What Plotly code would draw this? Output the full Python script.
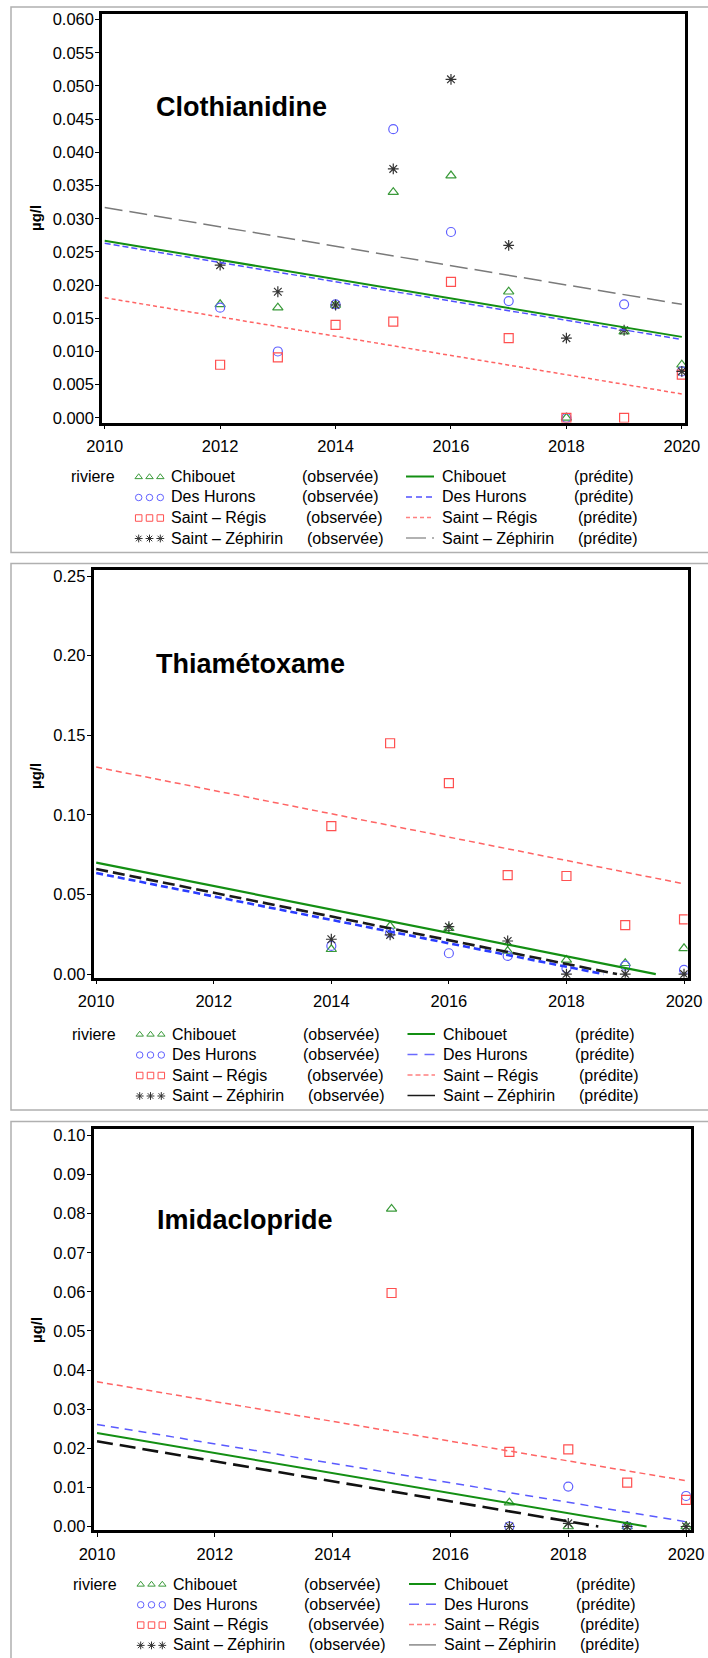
import plotly.graph_objects as go

W, H = 708, 1658

# ---------------- data ----------------
rivers = ["Chibouet", "Des Hurons", "Saint – Régis", "Saint – Zéphirin"]
legend_title = "riviere"
obs_label = "(observée)"
pred_label = "(prédite)"
y_label = "µg/l"
x_ticks = [2010, 2012, 2014, 2016, 2018, 2020]

clo_title = "Clothianidine"
clo_years = [2012, 2013, 2014, 2015, 2016, 2017, 2018, 2019, 2020]
clo_chibouet = [0.0171, 0.0166, 0.0170, 0.0340, 0.0365, 0.0190, 0.0000, 0.0130, 0.0080]
clo_hurons = [0.0166, 0.0100, 0.0171, 0.0435, 0.0280, 0.0176, 0.0000, 0.0171, 0.0070]
clo_regis = [0.0080, 0.0091, 0.0140, 0.0145, 0.0205, 0.0120, 0.0000, 0.0000, 0.0065]
clo_zephirin = [0.0230, 0.0190, 0.0170, 0.0375, 0.0510, 0.0260, 0.0120, 0.0132, 0.0070]
clo_pred_x = [[2010, 2020], [2010, 2020], [2010, 2020], [2010, 2020]]
clo_pred_y = [[0.0267, 0.0122], [0.0263, 0.0118], [0.0181, 0.0036], [0.0317, 0.0171]]

thi_title = "Thiamétoxame"
thi_years = [2014, 2015, 2016, 2017, 2018, 2019, 2020]
thi_chibouet = [0.0156, 0.0302, 0.0288, 0.0145, 0.0089, 0.0068, 0.0162]
thi_hurons = [0.0177, 0.0260, 0.0131, 0.0114, 0.0036, 0.0053, 0.0026]
thi_regis = [0.0930, 0.1450, 0.1200, 0.0622, 0.0616, 0.0308, 0.0344]
thi_zephirin = [0.0219, 0.0246, 0.0298, 0.0208, 0.0000, 0.0000, 0.0000]
thi_pred_x = [[2010, 2019.52], [2010, 2018.63], [2010, 2020], [2010, 2018.86]]
thi_pred_y = [[0.0700, 0.0], [0.0635, 0.0], [0.1300, 0.0567], [0.0660, 0.0]]

imi_title = "Imidaclopride"
imi_years = [2015, 2017, 2018, 2019, 2020]
imi_chibouet = [0.0812, 0.0061, 0.0000, 0.0000, 0.0000]
imi_hurons = [None, 0.0000, 0.0102, 0.0000, 0.0078]
imi_regis = [0.0597, 0.0191, 0.0197, 0.0112, 0.0068]
imi_zephirin = [None, 0.0000, 0.0008, 0.0000, 0.0000]
imi_pred_x = [[2010, 2019.33], [2010, 2020], [2010, 2020], [2010, 2018.51]]
imi_pred_y = [[0.0239, 0.0], [0.0261, 0.0012], [0.0370, 0.0117], [0.0218, 0.0]]

# ---------------- styles ----------------
FONT = "Liberation Sans, Arial, Helvetica, sans-serif"
mk_symbols = ["triangle-up-open", "circle-open", "square-open", "asterisk-open"]
mk_colors = ["#3a9a3a", "#6060ff", "#ff5050", "#333333"]

line_styles = [
    [  # panel 1
        dict(color="#138f13", width=2, dash="solid"),
        dict(color="#5050ff", width=1.5, dash="6px,3px"),
        dict(color="#ff6464", width=1.5, dash="4px,3px"),
        dict(color="#7a7a7a", width=1.5, dash="18px,7px"),
    ],
    [  # panel 2
        dict(color="#138f13", width=2.2, dash="solid"),
        dict(color="#2a3cff", width=2.6, dash="7px,4px"),
        dict(color="#ff6464", width=1.5, dash="6px,4px"),
        dict(color="#1a1a1a", width=2.6, dash="12px,5px"),
    ],
    [  # panel 3
        dict(color="#138f13", width=2, dash="solid"),
        dict(color="#5a5aff", width=1.5, dash="8px,6px"),
        dict(color="#ff6464", width=1.5, dash="6px,4px"),
        dict(color="#111111", width=2.6, dash="16px,7px"),
    ],
]
legend_line_styles = [
    [dict(color="#138f13", width=2, dash="solid"), dict(color="#5050ff", width=1.5, dash="6px,4px"),
     dict(color="#ff8080", width=1.5, dash="4px,3px"), dict(color="#999999", width=1.5, dash="20px,6px")],
    [dict(color="#138f13", width=2, dash="solid"), dict(color="#6a6aff", width=1.5, dash="10px,7px"),
     dict(color="#ff8080", width=1.5, dash="5px,3px"), dict(color="#1a1a1a", width=1.5, dash="solid")],
    [dict(color="#138f13", width=2, dash="solid"), dict(color="#6a6aff", width=1.5, dash="10px,7px"),
     dict(color="#ff8080", width=1.5, dash="5px,3px"), dict(color="#888888", width=1.5, dash="solid")],
]

panels = [
    dict(title=clo_title, years=clo_years, obs=[clo_chibouet, clo_hurons, clo_regis, clo_zephirin],
         px=clo_pred_x, py=clo_pred_y,
         box=(102, 14.3, 685.4, 422.5), xr=(2009.953, 2020.062), yr=(-0.0007, 0.0608),
         dtick=0.005, fmt=".3f", title_xy=(153.5, 107), ylab_y=218,
         leg_y0=476.5, leg_dy=20.5, leg_dx=0, frame=(11, 7, 552.5)),
    dict(title=thi_title, years=thi_years, obs=[thi_chibouet, thi_hurons, thi_regis, thi_zephirin],
         px=thi_pred_x, py=thi_pred_y,
         box=(93.5, 570, 687.6, 977.7), xr=(2009.954, 2020.061), yr=(-0.00226, 0.2538),
         dtick=0.05, fmt=".2f", title_xy=(153.5, 663.5), ylab_y=776,
         leg_y0=1034, leg_dy=20.5, leg_dx=1, frame=(11, 563.5, 1110)),
    dict(title=imi_title, years=imi_years, obs=[imi_chibouet, imi_hurons, imi_regis, imi_zephirin],
         px=imi_pred_x, py=imi_pred_y,
         box=(93.5, 1128.6, 690.8, 1530), xr=(2009.94, 2020.08), yr=(-0.0009, 0.10174),
         dtick=0.01, fmt=".2f", title_xy=(155, 1219.5), ylab_y=1330,
         leg_y0=1584, leg_dy=20.3, leg_dx=2, frame=(11, 1121.5, 1700)),
]

def fx(x):
    return x / W

def fy(y):
    return 1 - y / H

fig = go.Figure()
shapes = []
annotations = []

for i, p in enumerate(panels):
    k = "" if i == 0 else str(i + 1)
    xa, ya = "x" + k, "y" + k
    x0, y0, x1, y1 = p["box"]
    for s in range(4):
        fig.add_trace(go.Scatter(
            x=p["years"], y=p["obs"][s], mode="markers", xaxis=xa, yaxis=ya,
            marker=dict(symbol=mk_symbols[s], size=9, color=mk_colors[s],
                        line=dict(color=mk_colors[s], width=1.2)),
            showlegend=False, name=rivers[s] + " " + obs_label))
    for s in range(4):
        fig.add_trace(go.Scatter(
            x=p["px"][s], y=p["py"][s], mode="lines", xaxis=xa, yaxis=ya,
            line=line_styles[i][s], showlegend=False, name=rivers[s] + " " + pred_label))

    axis_common = dict(showline=True, linewidth=2.5, linecolor="black", mirror=True,
                       ticks="outside", ticklen=4, tickwidth=1.3, tickcolor="black",
                       showgrid=False, zeroline=False, automargin=False,
                       ticklabeloverflow="allow",
                       tickfont=dict(family=FONT, size=16.5, color="black"))
    fig.update_layout(**{
        "xaxis" + k: dict(domain=[fx(x0), fx(x1)], range=list(p["xr"]), tickvals=x_ticks,
                          anchor=ya, ticklabelstandoff=3, **axis_common),
        "yaxis" + k: dict(domain=[fy(y1), fy(y0)], range=list(p["yr"]), dtick=p["dtick"],
                          tick0=0, tickformat=p["fmt"], anchor=xa, ticklabelstandoff=-2,
                          **axis_common),
    })

    fl, ft, fb = p["frame"]
    shapes.append(dict(type="rect", xref="paper", yref="paper", x0=fx(fl), x1=1.1,
                       y0=fy(fb), y1=fy(ft), line=dict(color="#b0b0b0", width=1.5)))
    tx, ty = p["title_xy"]
    annotations.append(dict(text="<b>" + p["title"] + "</b>", xref="paper", yref="paper",
                            x=fx(tx), y=fy(ty), xanchor="left", yanchor="middle",
                            showarrow=False, font=dict(family=FONT, size=27, color="black")))
    annotations.append(dict(text="<b>" + y_label + "</b>", xref="paper", yref="paper",
                            x=fx(36), y=fy(p["ylab_y"]), xanchor="center", yanchor="middle",
                            textangle=-90, showarrow=False,
                            font=dict(family=FONT, size=15, color="black")))
    dx = p["leg_dx"]
    obs_x = [300, 300, 304, 305]
    pred_x = [571.5, 571.5, 575.5, 576]
    annotations.append(dict(text=legend_title, xref="paper", yref="paper",
                            x=fx(69 + dx), y=fy(p["leg_y0"]), xanchor="left", yanchor="middle",
                            showarrow=False, font=dict(family=FONT, size=16, color="black")))
    for s in range(4):
        ry = p["leg_y0"] + p["leg_dy"] * s
        for txt, xx in [(rivers[s], 168.5 + dx), (obs_label, obs_x[s] + dx),
                        (rivers[s], 440 + dx), (pred_label, pred_x[s] + dx)]:
            annotations.append(dict(text=txt, xref="paper", yref="paper", x=fx(xx), y=fy(ry),
                                    xanchor="left", yanchor="middle", showarrow=False,
                                    font=dict(family=FONT, size=16, color="black")))
        fig.add_trace(go.Scatter(
            x=[138.7 + dx, 149.5 + dx, 160.3 + dx], y=[ry + 0.5] * 3, mode="markers",
            xaxis="x4", yaxis="y4",
            marker=dict(symbol=mk_symbols[s], size=6.5, color=mk_colors[s],
                        line=dict(color=mk_colors[s], width=1)),
            showlegend=False, hoverinfo="skip"))
        shapes.append(dict(type="line", xref="paper", yref="paper",
                           x0=fx(406 + dx * 1.5), x1=fx(434 + dx), y0=fy(ry), y1=fy(ry),
                           line=legend_line_styles[i][s]))

fig.update_layout(
    xaxis4=dict(domain=[0, 1], range=[0, W], visible=False, anchor="y4",
                fixedrange=True, automargin=False),
    yaxis4=dict(domain=[0, 1], range=[H, 0], visible=False, anchor="x4",
                fixedrange=True, automargin=False),
)

fig.update_layout(
    template="none",
    width=W, height=H, margin=dict(l=0, r=0, t=0, b=0, pad=0),
    paper_bgcolor="white", plot_bgcolor="rgba(0,0,0,0)",
    showlegend=False, hovermode=False, shapes=shapes, annotations=annotations,
    font=dict(family=FONT, size=16, color="black"),
)

# remove the default 8px page margin so the 708x1658 figure fills the window exactly
fig.write_html("out.html",
               config={"displayModeBar": False},
               post_script="document.body.style.margin='0px';"
                           "document.documentElement.style.overflow='hidden';")
